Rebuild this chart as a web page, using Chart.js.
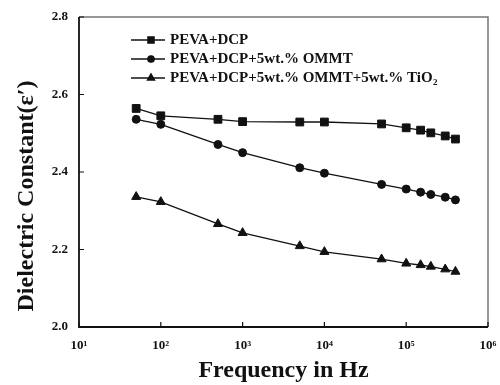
<!DOCTYPE html>
<html>
<head>
<meta charset="utf-8">
<script src="https://cdn.jsdelivr.net/npm/chart.js@4.4.1/dist/chart.umd.min.js"></script>
<style>
  html, body { margin: 0; padding: 0; background: #fff; }
  #wrap { width: 500px; height: 385px; }
</style>
</head>
<body>
<div id="wrap"><canvas id="dielCanvas" width="500" height="385"></canvas></div>
<script>
const frequencies = [50, 100, 500, 1000, 5000, 10000, 50000, 100000, 150000, 200000, 300000, 400000];
const seriesNames = [
    "PEVA+DCP",
    "PEVA+DCP+5wt.% OMMT",
    "PEVA+DCP+5wt.% OMMT+5wt.% TiO"
];
const pevaDcp = [2.564, 2.545, 2.536, 2.530, 2.529, 2.529, 2.524, 2.514, 2.508, 2.501, 2.493, 2.485];
const pevaOmmt = [2.536, 2.523, 2.471, 2.450, 2.411, 2.397, 2.368, 2.356, 2.348, 2.342, 2.335, 2.328];
const pevaOmmtTio2 = [2.336, 2.323, 2.266, 2.243, 2.209, 2.194, 2.175, 2.164, 2.160, 2.156, 2.149, 2.143];
const decades = [10, 100, 1000, 10000, 100000, 1000000];
const decadeLabels = ["10\u00b9", "10\u00b2", "10\u00b3", "10\u2074", "10\u2075", "10\u2076"];
const yTicks = [2.0, 2.2, 2.4, 2.6, 2.8];
const yTitle = "Dielectric Constant(\u03b5\u2032)";

const serif = "'Liberation Serif', 'DejaVu Serif', serif";

function toPoints(values) {
    return frequencies.map((f, i) => ({ x: f, y: values[i] }));
}

// box round the plot, inward ticks, y title and the legend inside the plot
const framePlugin = {
    id: "frame",
    afterDraw(chart) {
        const ctx = chart.ctx;
        const a = chart.chartArea;
        const xs = chart.scales.x;
        const ys = chart.scales.y;
        ctx.save();
        ctx.strokeStyle = "#777";
        ctx.lineWidth = 1.5;
        ctx.beginPath();
        ctx.moveTo(a.left, a.top);
        ctx.lineTo(a.right, a.top);
        ctx.lineTo(a.right, a.bottom);
        ctx.stroke();
        ctx.strokeStyle = "#111";
        ctx.lineWidth = 1.8;
        ctx.beginPath();
        ctx.moveTo(a.left, a.top);
        ctx.lineTo(a.left, a.bottom);
        ctx.lineTo(a.right, a.bottom);
        ctx.stroke();
        ctx.lineWidth = 1.2;
        ctx.beginPath();
        decades.forEach(v => {
            const px = xs.getPixelForValue(v);
            ctx.moveTo(px, a.bottom);
            ctx.lineTo(px, a.bottom - 5);
        });
        yTicks.forEach(v => {
            const py = ys.getPixelForValue(v);
            ctx.moveTo(a.left, py);
            ctx.lineTo(a.left + 5, py);
        });
        ctx.stroke();

        // y title, sits a bit below the middle of the axis like the original
        ctx.save();
        ctx.translate(27, (a.top + a.bottom) / 2 + 24);
        ctx.rotate(-Math.PI / 2);
        ctx.font = "bold 24px " + serif;
        ctx.textAlign = "center";
        ctx.textBaseline = "middle";
        ctx.fillStyle = "#111";
        ctx.fillText(yTitle, 0, 0);
        ctx.restore();

        // legend
        const legendFont = "bold 15px " + serif;
        ctx.font = legendFont;
        ctx.textBaseline = "middle";
        ctx.fillStyle = "#111";
        chart.data.datasets.forEach((ds, i) => {
            const y = a.top + 23 + i * 19;
            const x0 = a.left + 52;
            ctx.strokeStyle = "#111";
            ctx.lineWidth = 1.3;
            ctx.beginPath();
            ctx.moveTo(x0, y);
            ctx.lineTo(x0 + 34, y);
            ctx.stroke();
            Chart.helpers.drawPoint(ctx, {
                pointStyle: ds.pointStyle,
                radius: ds.pointRadius * 0.8,
                borderWidth: 1
            }, x0 + 20, y);
            ctx.fillText(seriesNames[i], x0 + 39, y);
            if (i === 2) {
                const w = ctx.measureText(seriesNames[i]).width;
                ctx.font = "bold 9px " + serif;
                ctx.fillText("2", x0 + 39 + w + 0.5, y + 5);
                ctx.font = legendFont;
            }
        });
        ctx.restore();
    }
};

function lineSet(label, values, style, radius) {
    return {
        label: label,
        data: toPoints(values),
        borderColor: "#111",
        backgroundColor: "#111",
        borderWidth: 1.3,
        pointStyle: style,
        pointRadius: radius,
        pointBackgroundColor: "#111",
        pointBorderColor: "#111",
        pointBorderWidth: 1,
        tension: 0
    };
}

const dielCanvas = document.getElementById("dielCanvas");
const dielChart = new Chart(dielCanvas, {
    type: "line",
    data: {
        datasets: [
            lineSet(seriesNames[0], pevaDcp, "rect", 5.5),
            lineSet(seriesNames[1], pevaOmmt, "circle", 4),
            lineSet(seriesNames[2] + "2", pevaOmmtTio2, "triangle", 5.2)
        ]
    },
    options: {
        responsive: false,
        animation: false,
        layout: { padding: { top: 17, right: 12, left: 0, bottom: 0 } },
        plugins: {
            legend: { display: false },
            tooltip: { enabled: false }
        },
        scales: {
            x: {
                type: "logarithmic",
                min: 10,
                max: 1000000,
                afterBuildTicks: scale => {
                    scale.ticks = decades.map(v => ({ value: v }));
                },
                afterFit: scale => {
                    scale.height = 58;
                    // let the 10^6 label run off the edge instead of shrinking the plot
                    scale.paddingRight = 0;
                    scale.paddingLeft = 0;
                },
                ticks: {
                    autoSkip: false,
                    maxRotation: 0,
                    padding: 11,
                    color: "#111",
                    font: { family: serif, size: 13, weight: "bold" },
                    callback: (v) => decadeLabels[decades.indexOf(v)]
                },
                grid: { display: false, drawTicks: false },
                border: { display: false },
                title: {
                    display: true,
                    text: "Frequency in Hz",
                    color: "#111",
                    padding: { top: 0, bottom: 0 },
                    font: { family: serif, size: 24, weight: "bold" }
                }
            },
            y: {
                min: 2.0,
                max: 2.8,
                afterBuildTicks: scale => {
                    scale.ticks = yTicks.map(v => ({ value: v }));
                },
                afterFit: scale => {
                    scale.width = 79;
                    scale.paddingTop = 0;
                    scale.paddingBottom = 0;
                },
                ticks: {
                    padding: 11,
                    color: "#111",
                    font: { family: serif, size: 13, weight: "bold" },
                    callback: v => v.toFixed(1)
                },
                grid: { display: false, drawTicks: false },
                border: { display: false }
            }
        }
    },
    plugins: [framePlugin]
});
</script>
</body>
</html>
